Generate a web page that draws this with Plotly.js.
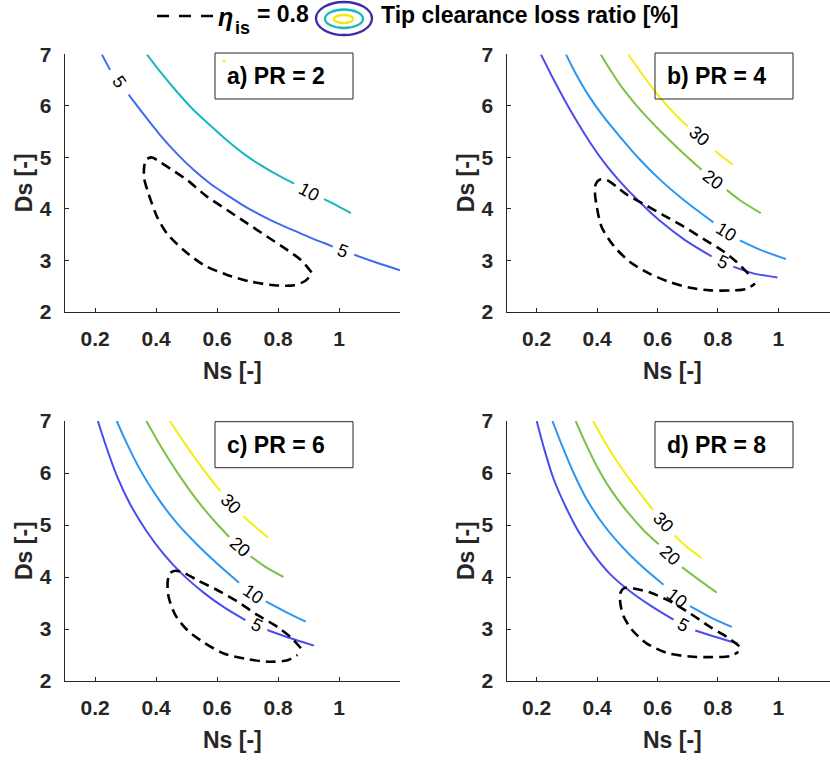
<!DOCTYPE html>
<html><head><meta charset="utf-8">
<script src="https://cdn.plot.ly/plotly-3.0.1.min.js"></script>
<style>html,body{margin:0;padding:0;background:#fff}</style>
</head><body><div id="chart" style="width:830px;height:760px"></div>
<script>
// ---------- tick labels / texts ----------
const xTickVals = [0.2, 0.4, 0.6, 0.8, 1];
const xTickText = ['0.2', '0.4', '0.6', '0.8', '1'];
const yTickVals = [2, 3, 4, 5, 6, 7];
const yTickText = ['2', '3', '4', '5', '6', '7'];
const panelTitles = ['a) PR = 2', 'b) PR = 4', 'c) PR = 6', 'd) PR = 8'];
const xTitle = 'Ns [-]';
const yTitle = 'Ds [-]';
const legendEtaSymbol = 'η';
const legendEtaSub = 'is';
const legendEtaValue = '= 0.8';
const legendContour = 'Tip clearance loss ratio [%]';

// ---------- a) PR = 2 ----------
const PR2_L5_Ns  = [0.222, 0.249, null, 0.310, 0.359, 0.414, 0.469, 0.523, 0.578, 0.633, 0.688, 0.743, 0.798, 0.853, 0.908, 0.963, 0.980, null, 1.050, 1.127, 1.200];
const PR2_L5_Ds  = [7.00, 6.70, null, 6.22, 5.84, 5.43, 5.07, 4.76, 4.49, 4.27, 4.06, 3.88, 3.72, 3.58, 3.44, 3.31, 3.27, null, 3.11, 2.95, 2.81];
const PR2_L10_Ns = [0.370, 0.414, 0.469, 0.523, 0.578, 0.633, 0.688, 0.743, 0.798, 0.853, null, 0.951, 0.995, 1.039];
const PR2_L10_Ds = [7.00, 6.66, 6.27, 5.92, 5.62, 5.33, 5.07, 4.85, 4.66, 4.49, null, 4.19, 4.06, 3.92];
const PR2_L15_Ns = [0.620, 0.626];
const PR2_L15_Ds = [6.89, 6.85];
const PR2_eta_Ns = [0.910, 0.875, 0.831, 0.765, 0.699, 0.633, 0.567, 0.502, 0.447, 0.403, 0.387, 0.368, 0.361, 0.361, 0.375, 0.403, 0.436, 0.491, 0.557, 0.633, 0.710, 0.787, 0.853, 0.891, 0.910];
const PR2_eta_Ds = [2.77, 3.01, 3.20, 3.46, 3.72, 3.98, 4.24, 4.56, 4.78, 4.95, 5.00, 4.96, 4.82, 4.59, 4.30, 3.85, 3.52, 3.20, 2.91, 2.72, 2.59, 2.52, 2.52, 2.61, 2.75];
const PR2_lblText = ['5', '10', '5'];
const PR2_lblNs = [0.280, 0.902, 1.014];
const PR2_lblDs = [6.46, 4.33, 3.19];
const PR2_lblAng = [56, 28, 21];

// ---------- b) PR = 4 ----------
const PR4_L5_Ns  = [0.214, 0.250, 0.290, 0.330, 0.380, 0.430, 0.476, 0.540, 0.610, 0.690, 0.779, null, 0.851, 0.917, 0.997];
const PR4_L5_Ds  = [7.00, 6.58, 6.14, 5.73, 5.26, 4.85, 4.53, 4.14, 3.76, 3.40, 3.08, null, 2.88, 2.75, 2.67];
const PR4_L10_Ns = [0.297, 0.330, 0.370, 0.420, 0.476, 0.540, 0.610, 0.690, 0.785, null, 0.873, 0.939, 1.025];
const PR4_L10_Ds = [7.00, 6.62, 6.22, 5.80, 5.40, 4.97, 4.56, 4.16, 3.74, null, 3.39, 3.21, 3.03];
const PR4_L20_Ns = [0.412, 0.450, 0.490, 0.530, 0.575, 0.620, 0.680, 0.746, null, 0.829, 0.873, 0.942];
const PR4_L20_Ds = [7.00, 6.64, 6.30, 6.01, 5.72, 5.45, 5.11, 4.76, null, 4.37, 4.17, 3.92];
const PR4_L30_Ns = [0.503, 0.550, 0.600, 0.650, 0.700, null, 0.790, 0.820, 0.850];
const PR4_L30_Ds = [7.00, 6.61, 6.22, 5.89, 5.60, null, 5.13, 4.99, 4.86];
const PR4_eta_Ns = [0.901, 0.862, 0.818, 0.752, 0.686, 0.619, 0.553, 0.498, 0.465, 0.432, 0.410, 0.396, 0.393, 0.399, 0.415, 0.454, 0.509, 0.575, 0.641, 0.708, 0.774, 0.851, 0.895, 0.923];
const PR4_eta_Ds = [2.74, 2.97, 3.18, 3.42, 3.66, 3.88, 4.10, 4.28, 4.43, 4.56, 4.57, 4.49, 4.30, 4.04, 3.65, 3.29, 2.97, 2.74, 2.58, 2.47, 2.42, 2.42, 2.45, 2.55];
const PR4_lblText = ['30', '20', '10', '5'];
const PR4_lblNs = [0.738, 0.785, 0.827, 0.816];
const PR4_lblDs = [5.41, 4.57, 3.55, 2.97];
const PR4_lblAng = [41, 37, 32, 24];

// ---------- c) PR = 6 ----------
const PR6_L5_Ns  = [0.209, 0.238, 0.271, 0.315, 0.370, 0.425, 0.485, 0.556, 0.622, 0.693, null, 0.765, 0.831, 0.918];
const PR6_L5_Ds  = [7.00, 6.48, 5.95, 5.40, 4.87, 4.44, 4.06, 3.70, 3.42, 3.17, null, 2.98, 2.84, 2.68];
const PR6_L10_Ns = [0.271, 0.304, 0.348, 0.403, 0.469, 0.535, 0.600, 0.672, null, 0.760, 0.831, 0.891];
const PR6_L10_Ds = [7.00, 6.57, 6.06, 5.54, 5.03, 4.62, 4.26, 3.89, null, 3.53, 3.31, 3.14];
const PR6_L20_Ns = [0.368, 0.400, 0.440, 0.480, 0.520, 0.560, 0.600, 0.640, null, 0.710, 0.760, 0.818];
const PR6_L20_Ds = [7.00, 6.67, 6.28, 5.92, 5.59, 5.29, 5.02, 4.77, null, 4.40, 4.19, 4.00];
const PR6_L30_Ns = [0.445, 0.480, 0.524, 0.568, 0.611, null, 0.686, 0.726, 0.767];
const PR6_L30_Ds = [7.00, 6.69, 6.32, 5.97, 5.65, null, 5.17, 4.96, 4.76];
const PR6_eta_Ns = [0.875, 0.842, 0.798, 0.732, 0.666, 0.600, 0.535, 0.491, 0.463, 0.445, 0.438, 0.441, 0.463, 0.502, 0.557, 0.622, 0.699, 0.776, 0.831, 0.864];
const PR6_eta_Ds = [2.63, 2.84, 3.04, 3.27, 3.53, 3.75, 3.94, 4.08, 4.12, 4.07, 3.91, 3.62, 3.27, 2.98, 2.74, 2.53, 2.42, 2.37, 2.40, 2.50];
const PR6_lblText = ['30', '20', '10', '5'];
const PR6_lblNs = [0.646, 0.675, 0.717, 0.730];
const PR6_lblDs = [5.41, 4.58, 3.67, 3.08];
const PR6_lblAng = [45, 41, 34, 27];

// ---------- d) PR = 8 ----------
const PR8_L5_Ns  = [0.200, 0.226, 0.257, 0.296, 0.340, 0.389, 0.444, 0.510, 0.582, 0.653, null, 0.725, 0.796, 0.866];
const PR8_L5_Ds  = [7.00, 6.44, 5.87, 5.35, 4.86, 4.43, 4.05, 3.72, 3.43, 3.18, null, 2.97, 2.84, 2.72];
const PR8_L10_Ns = [0.252, 0.285, 0.323, 0.367, 0.422, 0.483, 0.549, 0.620, null, 0.708, 0.774, 0.846];
const PR8_L10_Ds = [7.00, 6.51, 5.99, 5.48, 5.00, 4.58, 4.20, 3.85, null, 3.44, 3.23, 3.04];
const PR8_L20_Ns = [0.329, 0.362, 0.400, 0.444, 0.499, 0.554, 0.604, null, 0.681, 0.741, 0.796];
const PR8_L20_Ds = [7.00, 6.57, 6.12, 5.69, 5.26, 4.90, 4.63, null, 4.19, 3.93, 3.70];
const PR8_L30_Ns = [0.387, 0.422, 0.466, 0.521, 0.585, null, 0.656, 0.697, 0.747];
const PR8_L30_Ds = [7.00, 6.63, 6.22, 5.77, 5.29, null, 4.80, 4.58, 4.36];
const PR8_eta_Ns = [0.871, 0.829, 0.774, 0.708, 0.642, 0.576, 0.521, 0.491, 0.477, 0.477, 0.488, 0.516, 0.565, 0.631, 0.708, 0.774, 0.840, 0.868];
const PR8_eta_Ds = [2.67, 2.85, 3.04, 3.30, 3.53, 3.70, 3.78, 3.79, 3.69, 3.49, 3.24, 2.98, 2.72, 2.54, 2.47, 2.46, 2.48, 2.56];
const PR8_lblText = ['30', '20', '10', '5'];
const PR8_lblNs = [0.618, 0.640, 0.664, 0.685];
const PR8_lblDs = [5.05, 4.42, 3.60, 3.07];
const PR8_lblAng = [47, 43, 38, 28];

// ---------- styling ----------
const FONT = 'Liberation Sans, Arial, Helvetica, sans-serif';
const AXC = '#262626';
const COL_A5 = '#3f6af3', COL_A10 = '#17b8bc', COL_Y = '#f3ee12';
const COL5 = '#4a4cf0', COL10 = '#2c96ee', COL20 = '#7cc144', COL30 = '#f3ee12';

const W = 830, H = 760;
const px = v => v / W;
const py = v => 1 - v / H;

function lineTrace(xs, ys, color, ax, ay, dash, width) {
  return {type: 'scatter', mode: 'lines', x: xs, y: ys, xaxis: ax, yaxis: ay,
    connectgaps: false, hoverinfo: 'skip', showlegend: false,
    line: {color: color, width: width || 2, dash: dash || 'solid', shape: 'spline', smoothing: 0.8}};
}

const panels = [
  {ax: 'x', ay: 'y', lines: [[PR2_L5_Ns, PR2_L5_Ds, COL_A5], [PR2_L10_Ns, PR2_L10_Ds, COL_A10], [PR2_L15_Ns, PR2_L15_Ds, COL_Y]],
   eta: [PR2_eta_Ns, PR2_eta_Ds], lbl: [PR2_lblText, PR2_lblNs, PR2_lblDs, PR2_lblAng]},
  {ax: 'x2', ay: 'y2', lines: [[PR4_L5_Ns, PR4_L5_Ds, COL5], [PR4_L10_Ns, PR4_L10_Ds, COL10], [PR4_L20_Ns, PR4_L20_Ds, COL20], [PR4_L30_Ns, PR4_L30_Ds, COL30]],
   eta: [PR4_eta_Ns, PR4_eta_Ds], lbl: [PR4_lblText, PR4_lblNs, PR4_lblDs, PR4_lblAng]},
  {ax: 'x3', ay: 'y3', lines: [[PR6_L5_Ns, PR6_L5_Ds, COL5], [PR6_L10_Ns, PR6_L10_Ds, COL10], [PR6_L20_Ns, PR6_L20_Ds, COL20], [PR6_L30_Ns, PR6_L30_Ds, COL30]],
   eta: [PR6_eta_Ns, PR6_eta_Ds], lbl: [PR6_lblText, PR6_lblNs, PR6_lblDs, PR6_lblAng]},
  {ax: 'x4', ay: 'y4', lines: [[PR8_L5_Ns, PR8_L5_Ds, COL5], [PR8_L10_Ns, PR8_L10_Ds, COL10], [PR8_L20_Ns, PR8_L20_Ds, COL20], [PR8_L30_Ns, PR8_L30_Ds, COL30]],
   eta: [PR8_eta_Ns, PR8_eta_Ds], lbl: [PR8_lblText, PR8_lblNs, PR8_lblDs, PR8_lblAng]}
];

const traces = [];
const annotations = [];
panels.forEach(p => {
  p.lines.forEach(l => traces.push(lineTrace(l[0], l[1], l[2], p.ax, p.ay)));
  traces.push(lineTrace(p.eta[0], p.eta[1], '#000000', p.ax, p.ay, '10px,6px', 2.6));
  const [t, xs, ys, an] = p.lbl;
  t.forEach((s, i) => annotations.push({xref: p.ax, yref: p.ay, x: xs[i], y: ys[i], text: s,
    textangle: an[i], showarrow: false, xanchor: 'center', yanchor: 'middle',
    font: {family: FONT, size: 18, color: '#000'}}));
});

// panel geometry (pixels of the 830x760 figure)
const colX = [[64.6, 400], [506.5, 830]];
const rowY = [[54.4, 312], [421, 681]];
const xRanges = [[0.1, 1.2], [0.1, 1.1712]];

function xaxisDef(c, anchor) {
  return {domain: [px(colX[c][0]), px(colX[c][1])], range: xRanges[c], anchor: anchor,
    tickvals: xTickVals, ticktext: xTickText, ticks: 'inside', ticklen: 4, tickwidth: 1, tickcolor: AXC,
    showline: true, linecolor: AXC, linewidth: 1, showgrid: false, zeroline: false, mirror: false,
    ticklabelstandoff: 8, tickfont: {family: FONT, size: 21, color: AXC, weight: 'bold'}, fixedrange: true};
}
function yaxisDef(r, anchor) {
  return {domain: [py(rowY[r][1]), py(rowY[r][0])], range: [2, 7], anchor: anchor,
    tickvals: yTickVals, ticktext: yTickText, ticks: 'inside', ticklen: 4, tickwidth: 1, tickcolor: AXC,
    showline: true, linecolor: AXC, linewidth: 1, showgrid: false, zeroline: false, mirror: false,
    ticklabelstandoff: 8, tickfont: {family: FONT, size: 21, color: AXC, weight: 'bold'}, fixedrange: true};
}

const shapes = [];
// panel text boxes and axis titles
const boxX = [[215, 353], [655, 793]];
const boxY = [[53, 99], [421.7, 467.7]];
panelTitles.forEach((t, i) => {
  const c = i % 2, r = Math.floor(i / 2);
  shapes.push({type: 'rect', xref: 'paper', yref: 'paper', x0: px(boxX[c][0]), x1: px(boxX[c][1]),
    y0: py(boxY[r][1]), y1: py(boxY[r][0]), line: {color: AXC, width: 1}, fillcolor: 'rgba(0,0,0,0)'});
  annotations.push({xref: 'paper', yref: 'paper', x: px(boxX[c][0] + 10), y: py((boxY[r][0] + boxY[r][1]) / 2),
    xanchor: 'left', yanchor: 'middle', text: t, showarrow: false,
    font: {family: FONT, size: 23, color: '#000', weight: 'bold'}});
  annotations.push({xref: 'paper', yref: 'paper', x: px((colX[c][0] + (c ? 838 : colX[c][1])) / 2), y: py(rowY[r][1] + 59),
    xanchor: 'center', yanchor: 'middle', text: xTitle, showarrow: false,
    font: {family: FONT, size: 23, color: AXC, weight: 'bold'}});
  annotations.push({xref: 'paper', yref: 'paper', x: px(c ? 466 : 24), y: py((rowY[r][0] + rowY[r][1]) / 2),
    xanchor: 'center', yanchor: 'middle', text: yTitle, textangle: -90, showarrow: false,
    font: {family: FONT, size: 23, color: AXC, weight: 'bold'}});
});

// legend (top)
shapes.push({type: 'line', xref: 'paper', yref: 'paper', x0: px(157), x1: px(214), y0: py(16), y1: py(16),
  line: {color: '#000', width: 2.6, dash: '12px,10px'}});
shapes.push({type: 'circle', xref: 'paper', yref: 'paper', x0: px(316), x1: px(372), y0: py(35), y1: py(2),
  line: {color: '#3c2ea6', width: 2.3}});
shapes.push({type: 'circle', xref: 'paper', yref: 'paper', x0: px(325), x1: px(363), y0: py(28), y1: py(9.5),
  line: {color: '#1cb8c0', width: 2.3}});
shapes.push({type: 'circle', xref: 'paper', yref: 'paper', x0: px(334), x1: px(353), y0: py(23), y1: py(15),
  line: {color: '#f0ea10', width: 2.3}});
annotations.push({xref: 'paper', yref: 'paper', x: px(216), y: py(17), xanchor: 'left', yanchor: 'middle',
  text: legendEtaSymbol, showarrow: false, font: {family: FONT, size: 25, color: '#000', style: 'italic', weight: 'bold'}});
annotations.push({xref: 'paper', yref: 'paper', x: px(233), y: py(28), xanchor: 'left', yanchor: 'middle',
  text: legendEtaSub, showarrow: false, font: {family: FONT, size: 18, color: '#000', weight: 'bold'}});
annotations.push({xref: 'paper', yref: 'paper', x: px(255), y: py(14), xanchor: 'left', yanchor: 'middle',
  text: legendEtaValue, showarrow: false, font: {family: FONT, size: 23, color: '#000', weight: 'bold'}});
annotations.push({xref: 'paper', yref: 'paper', x: px(379), y: py(15), xanchor: 'left', yanchor: 'middle',
  text: legendContour, showarrow: false, font: {family: FONT, size: 23, color: '#000', weight: 'bold'}});

const layout = {
  width: W, height: H, margin: {l: 0, r: 0, t: 0, b: 0},
  paper_bgcolor: '#fff', plot_bgcolor: 'rgba(0,0,0,0)', showlegend: false,
  font: {family: FONT},
  xaxis: xaxisDef(0, 'y'), yaxis: yaxisDef(0, 'x'),
  xaxis2: xaxisDef(1, 'y2'), yaxis2: yaxisDef(0, 'x2'),
  xaxis3: xaxisDef(0, 'y3'), yaxis3: yaxisDef(1, 'x3'),
  xaxis4: xaxisDef(1, 'y4'), yaxis4: yaxisDef(1, 'x4'),
  shapes: shapes, annotations: annotations
};
Plotly.newPlot('chart', traces, layout, {staticPlot: true, displayModeBar: false});
</script>
</body></html>
